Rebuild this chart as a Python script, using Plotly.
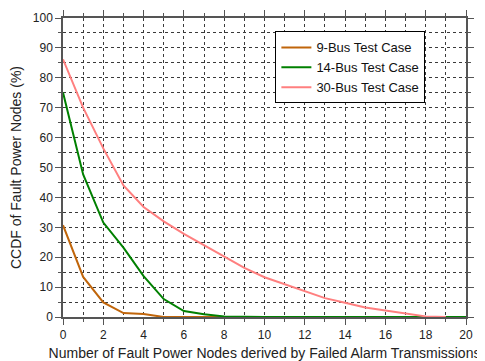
import plotly.graph_objects as go

x9 = [0, 1, 2, 3, 4, 5, 6, 7, 8, 9, 10, 11, 12, 13, 14, 15, 16, 17, 18, 19]
y9 = [30.7, 13.4, 4.9, 1.3, 1.0, 0, 0, 0, 0, 0, 0, 0, 0, 0, 0, 0, 0, 0, 0, 0]
x14 = [0, 1, 2, 3, 4, 5, 6, 7, 8, 9, 10, 11, 12, 13, 14, 15, 16, 17, 18, 19, 20]
y14 = [75.1, 47.7, 31.6, 23.2, 13.7, 6.0, 2.0, 0.9, 0.2, 0, 0, 0, 0, 0, 0, 0, 0, 0, 0, 0, 0]
x30 = [0, 1, 2, 3, 4, 5, 6, 7, 8, 9, 10, 11, 12, 13, 14, 15, 16, 17, 18, 19]
y30 = [86.2, 70.0, 56.4, 44.0, 36.8, 32.0, 27.8, 24.0, 20.2, 16.4, 13.3, 11.0, 8.7, 6.3, 4.8, 3.2, 2.2, 1.2, 0.2, 0]

names = ["9-Bus Test Case", "14-Bus Test Case", "30-Bus Test Case"]
colors = ["#C0650A", "#008000", "#FF7F7F"]

FONT = "Liberation Sans, Arial, sans-serif"

fig = go.Figure()
for xs, ys, n, c in zip([x9, x14, x30], [y9, y14, y30], names, colors):
    fig.add_trace(go.Scatter(x=xs, y=ys, mode="lines", name=n,
                             line=dict(color=c, width=2)))

axis_common = dict(
    showline=True, linecolor="#555555", linewidth=1.5, mirror="allticks",
    ticks="outside", ticklen=6, tickwidth=1.2, tickcolor="#555555",
    showgrid=True, gridcolor="#3a3a3a", gridwidth=1, griddash="dot",
    zeroline=False, automargin=False,
    tickfont=dict(family=FONT, size=12, color="#222222"),
)

fig.update_xaxes(range=[0, 20], dtick=2, tick0=0,
                 minor=dict(dtick=1, ticks="outside", ticklen=3, tickcolor="#555555",
                            showgrid=True, gridcolor="#3a3a3a", griddash="dot", gridwidth=1),
                 title=dict(text="Number of Fault Power Nodes derived by Failed Alarm Transmissions",
                            font=dict(family=FONT, size=14, color="#222222")),
                 **axis_common)
fig.update_yaxes(range=[0, 100], dtick=10, tick0=0,
                 minor=dict(dtick=5, ticks="outside", ticklen=3, tickcolor="#555555",
                            showgrid=True, gridcolor="#3a3a3a", griddash="dot", gridwidth=1),
                 title=dict(text="CCDF of Fault Power Nodes (%)",
                            font=dict(family=FONT, size=14, color="#222222")),
                 **axis_common)

fig.update_layout(
    width=477, height=353,
    margin=dict(l=55, r=19, t=10, b=44),
    plot_bgcolor="white", paper_bgcolor="white",
    legend=dict(x=0.527, y=0.955, xanchor="left", yanchor="top",
                bordercolor="black", borderwidth=1, bgcolor="white",
                font=dict(family=FONT, size=13, color="#111111"),
                tracegroupgap=0, itemwidth=30),
    showlegend=True,
)

fig.write_html("out.html")
